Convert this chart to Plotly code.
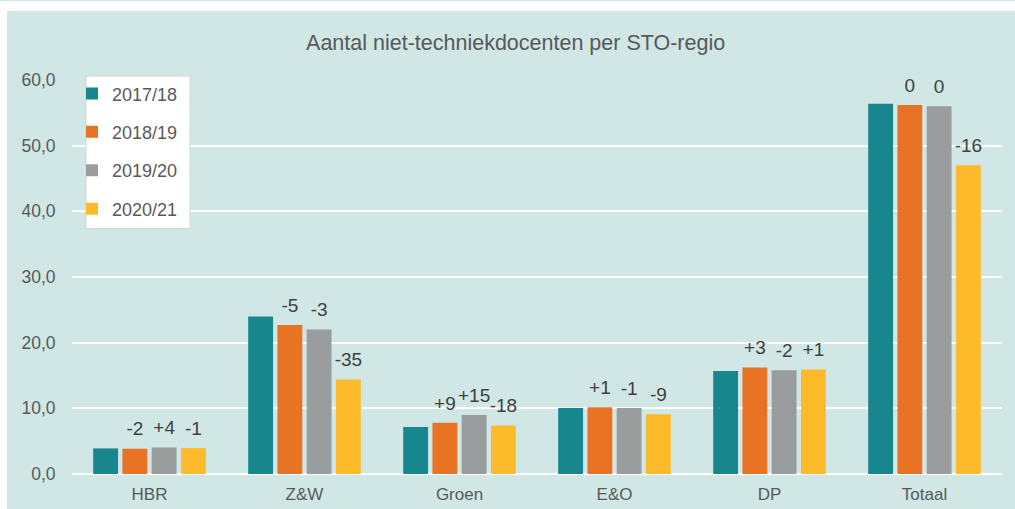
import plotly.graph_objects as go

# STO regions and school years
regions = ["HBR", "Z&W", "Groen", "E&O", "DP", "Totaal"]
years = ["2017/18", "2018/19", "2019/20", "2020/21"]

# number of non-technical teachers per region and year
v1718 = [3.9, 24.0, 7.15, 10.05, 15.7, 56.4]
v1819 = [3.85, 22.7, 7.8, 10.15, 16.2, 56.2]
v1920 = [4.05, 22.0, 9.0, 10.05, 15.8, 56.0]
v2021 = [3.95, 14.4, 7.4, 9.1, 15.9, 47.0]

# percentage change versus the previous year
d1718 = ["", "", "", "", "", ""]
d1819 = ["-2", "-5", "+9", "+1", "+3", "0"]
d1920 = ["+4", "-3", "+15", "-1", "-2", "0"]
d2021 = ["-1", "-35", "-18", "-9", "+1", "-16"]

values = [v1718, v1819, v1920, v2021]
changes = [d1718, d1819, d1920, d2021]
colors = ["#17878D", "#E87325", "#9A9D9E", "#FDBB2B"]

BG = "#D0E7E6"
FONT = "Liberation Sans, Arial, sans-serif"
TXT = "#595959"

fig = go.Figure()

for yr, vals, col in zip(years, values, colors):
    fig.add_trace(go.Bar(
        x=regions, y=vals, name=yr, marker_color=col,
        marker_line_width=0, offsetgroup=yr, legendgroup=yr,
    ))

# change labels sitting above each bar
for yr, vals, lab in zip(years, values, changes):
    fig.add_trace(go.Scatter(
        x=regions, y=vals, text=lab, mode="markers+text",
        textposition="top center", offsetgroup=yr,
        marker=dict(size=12, opacity=0), cliponaxis=False,
        textfont=dict(family=FONT, size=19, color="#404040"),
        showlegend=False, hoverinfo="skip",
    ))

fig.update_layout(
    width=1015, height=509,
    margin=dict(l=72, r=13, t=80, b=35),
    paper_bgcolor=BG, plot_bgcolor="rgba(0,0,0,0)",
    separators=",.",
    barmode="group", bargap=0.245, bargroupgap=0.15,
    scattermode="group", scattergap=0.245,
    title=dict(text="Aantal niet-techniekdocenten per STO-regio",
               x=0.508, xref="container", xanchor="center",
               y=0.917, yanchor="middle",
               font=dict(family=FONT, size=21.5, color=TXT)),
    font=dict(family=FONT, size=17, color=TXT),
    legend=dict(x=0.0, xanchor="left", y=1.012, yanchor="top",
                bgcolor="rgba(0,0,0,0)", borderwidth=0,
                tracegroupgap=12,
                font=dict(family=FONT, size=18, color=TXT)),
    xaxis=dict(showgrid=False, showline=False, ticks="",
               ticklabelstandoff=8, automargin=False,
               tickfont=dict(family=FONT, size=17, color=TXT)),
    yaxis=dict(range=[0, 60], dtick=10, tickformat=".1f",
               automargin=False,
               showgrid=True, gridcolor="white", gridwidth=2,
               zeroline=True, zerolinecolor="white", zerolinewidth=2,
               showline=False, ticks="outside", ticklen=12,
               tickcolor="rgba(0,0,0,0)",
               tickfont=dict(family=FONT, size=17.5, color=TXT)),
    shapes=[
        # white page strip on the left and top
        dict(type="rect", xref="paper", yref="paper",
             x0=-0.08, x1=-0.0699, y0=-0.1, y1=1.2,
             fillcolor="white", line_width=0, layer="below"),
        dict(type="rect", xref="paper", yref="paper",
             x0=-0.08, x1=1.02, y0=1.175, y1=1.2,
             fillcolor="white", line_width=0, layer="below"),
        # legend box
        dict(type="rect", xref="paper", yref="paper",
             x0=0.0151, x1=0.1269, y0=0.623, y1=1.010,
             fillcolor="white", line=dict(color="#D4D4D4", width=1),
             layer="above"),
    ],
)

fig.write_html("out.html")
